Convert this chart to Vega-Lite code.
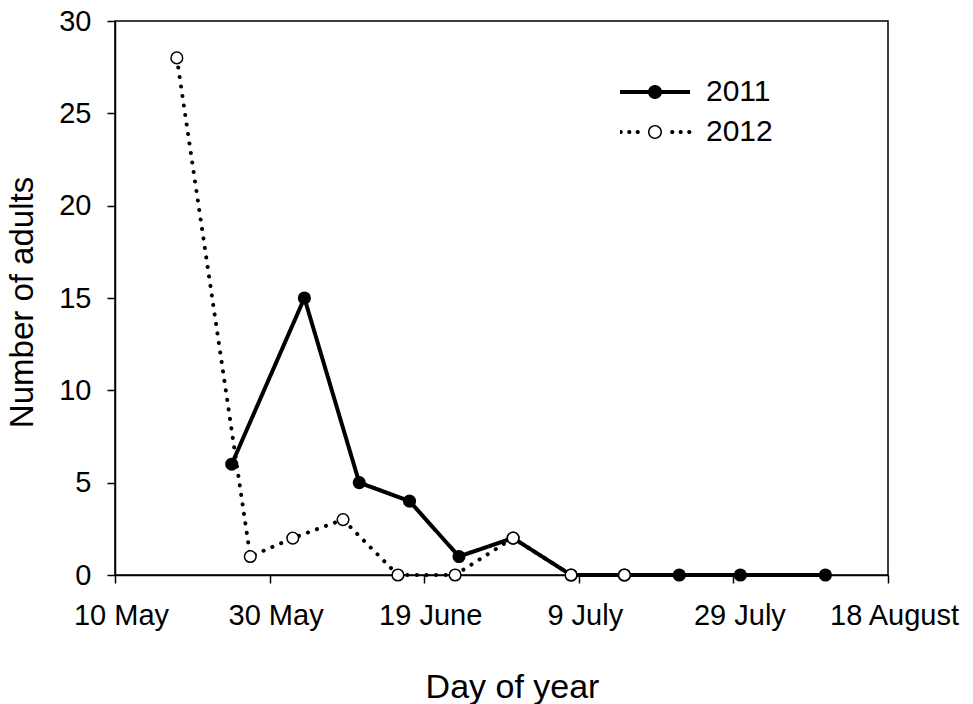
{
  "$schema": "https://vega.github.io/schema/vega-lite/v6.json",
  "width": 773,
  "height": 554,
  "autosize": {"type": "none"},
  "padding": {"left": 115, "top": 21, "right": 85, "bottom": 129},
  "background": "white",
  "config": {
    "font": "Liberation Sans",
    "view": {"stroke": "black", "strokeWidth": 1.5},
    "axis": {
      "domainColor": "black", "domainWidth": 1.5,
      "tickColor": "black", "tickWidth": 1.5, "tickSize": 8,
      "labelColor": "black", "titleColor": "black",
      "labelFontSize": 29, "titleFontSize": 33, "titleFontWeight": "normal",
      "grid": false
    }
  },
  "data": {
    "values": [
      {"year": "2011", "day": 15.1, "adults": 6},
      {"year": "2011", "day": 24.5, "adults": 15},
      {"year": "2011", "day": 31.6, "adults": 5},
      {"year": "2011", "day": 38.1, "adults": 4},
      {"year": "2011", "day": 44.5, "adults": 1},
      {"year": "2011", "day": 51.5, "adults": 2},
      {"year": "2011", "day": 59.0, "adults": 0},
      {"year": "2011", "day": 65.9, "adults": 0},
      {"year": "2011", "day": 73.0, "adults": 0},
      {"year": "2011", "day": 80.9, "adults": 0},
      {"year": "2011", "day": 91.9, "adults": 0},
      {"year": "2012", "day": 8.0, "adults": 28},
      {"year": "2012", "day": 17.5, "adults": 1},
      {"year": "2012", "day": 23.0, "adults": 2},
      {"year": "2012", "day": 29.5, "adults": 3},
      {"year": "2012", "day": 36.6, "adults": 0},
      {"year": "2012", "day": 44.0, "adults": 0},
      {"year": "2012", "day": 51.5, "adults": 2},
      {"year": "2012", "day": 59.0, "adults": 0},
      {"year": "2012", "day": 65.9, "adults": 0}
    ]
  },
  "encoding": {
    "x": {
      "field": "day", "type": "quantitative",
      "scale": {"domain": [0, 100], "nice": false, "zero": false},
      "axis": {
        "values": [0, 20, 40, 60, 80, 100],
        "labelExpr": "timeFormat(datetime(2001, 4, 10 + datum.value), '%-d %B')",
        "labelPadding": 18,
        "labelOffset": 6,
        "labelFlush": false,
        "labelOverlap": false,
        "title": "Day of year",
        "titleFontSize": 34,
        "titleX": 397, "titleY": 122, "titleBaseline": "alphabetic", "titleAlign": "center"
      }
    },
    "y": {
      "field": "adults", "type": "quantitative",
      "scale": {"domain": [0, 30], "nice": false},
      "axis": {
        "values": [0, 5, 10, 15, 20, 25, 30],
        "labelPadding": 16,
        "labelFlush": false,
        "labelOverlap": false,
        "title": "Number of adults",
        "titleX": -83, "titleY": 281, "titleBaseline": "alphabetic", "titleAlign": "center", "titleAngle": -90
      }
    }
  },
  "layer": [
    {
      "mark": {"type": "line", "strokeWidth": 4, "strokeCap": "round", "strokeJoin": "round", "color": "black"},
      "encoding": {
        "detail": {"field": "year", "type": "nominal"},
        "strokeDash": {
          "field": "year", "type": "nominal",
          "scale": {"domain": ["2011", "2012"], "range": [[1, 0], [0.1, 9.5]]},
          "legend": null
        }
      }
    },
    {
      "mark": {"type": "point", "shape": "circle", "filled": true, "size": 135, "stroke": "black", "strokeWidth": 1.5, "opacity": 1},
      "encoding": {
        "fill": {
          "field": "year", "type": "nominal",
          "scale": {"domain": ["2011", "2012"], "range": ["black", "white"]},
          "legend": null
        }
      }
    },
    {
      "mark": {"type": "point", "filled": true, "opacity": 0.001, "size": 1, "color": "black"},
      "encoding": {
        "shape": {
          "field": "year", "type": "nominal",
          "scale": {
            "range": [
              "M-1,-0.057H1V0.057H-1Z M0.2,0A0.2,0.2,0,1,1,-0.2,0A0.2,0.2,0,1,1,0.2,0Z",
              "M-0.92,0A0.06,0.06,0,1,1,-1.04,0A0.06,0.06,0,1,1,-0.92,0Z M-0.674,0A0.06,0.06,0,1,1,-0.794,0A0.06,0.06,0,1,1,-0.674,0Z M-0.434,0A0.06,0.06,0,1,1,-0.554,0A0.06,0.06,0,1,1,-0.434,0Z M0.554,0A0.06,0.06,0,1,1,0.434,0A0.06,0.06,0,1,1,0.554,0Z M0.794,0A0.06,0.06,0,1,1,0.674,0A0.06,0.06,0,1,1,0.794,0Z M1.04,0A0.06,0.06,0,1,1,0.92,0A0.06,0.06,0,1,1,1.04,0Z M0.2,0A0.2,0.2,0,1,1,-0.2,0A0.2,0.2,0,1,1,0.2,0Z M0.157,0A0.157,0.157,0,1,0,-0.157,0A0.157,0.157,0,1,0,0.157,0Z"
            ]
          },
          "legend": {
            "orient": "none", "legendX": 505, "legendY": 57,
            "title": null,
            "symbolSize": 4900,
            "clipHeight": 28,
            "symbolFillColor": "black",
            "symbolStrokeColor": "black",
            "symbolStrokeWidth": 0,
            "symbolOpacity": 1,
            "labelFontSize": 30,
            "labelColor": "black",
            "labelOffset": 16,
            "rowPadding": 10
          }
        }
      }
    }
  ]
}
